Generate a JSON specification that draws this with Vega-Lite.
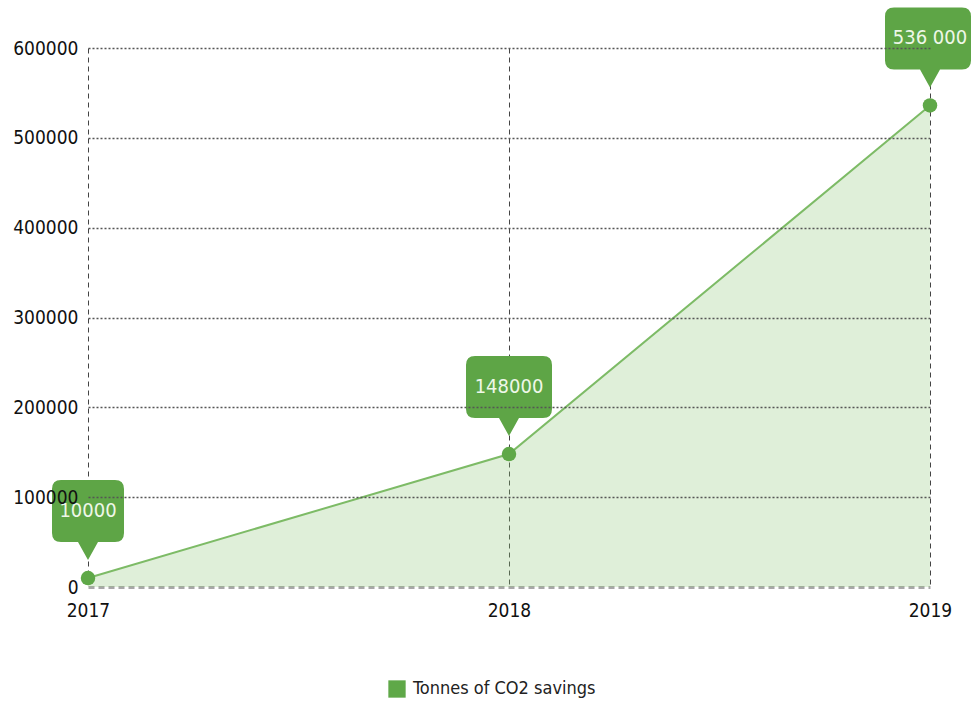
{
  "$schema": "https://vega.github.io/schema/vega-lite/v6.json",
  "width": 842,
  "height": 539,
  "autosize": "none",
  "padding": {"left": 88, "top": 48, "right": 42, "bottom": 127},
  "background": "white",
  "data": {
    "values": [
      {"year": 2017, "tonnes": 10000, "label": "10000"},
      {"year": 2018, "tonnes": 148000, "label": "148000"},
      {"year": 2019, "tonnes": 536000, "label": "536 000"}
    ]
  },
  "encoding": {
    "x": {
      "field": "year",
      "type": "ordinal",
      "scale": {"type": "point", "padding": 0},
      "axis": {
        "title": null,
        "labelAngle": 0,
        "ticks": false,
        "labelFont": "DejaVu Sans Condensed, Liberation Sans, sans-serif",
        "labelFontSize": 19,
        "labelColor": "#111111",
        "labelPadding": 14,
        "labelAlign": "center",
        "labelOverlap": false,
        "domain": true,
        "domainColor": "#a8a8a8",
        "domainWidth": 3,
        "domainDash": [6, 4],
        "grid": true,
        "gridColor": "#444444",
        "gridWidth": 1,
        "gridDash": [5, 4]
      }
    },
    "y": {
      "field": "tonnes",
      "type": "quantitative",
      "scale": {"domain": [0, 600000], "nice": false},
      "axis": {
        "title": null,
        "zindex": 1,
        "values": [0, 100000, 200000, 300000, 400000, 500000, 600000],
        "format": "d",
        "ticks": false,
        "domain": false,
        "labelFont": "DejaVu Sans Condensed, Liberation Sans, sans-serif",
        "labelFontSize": 19,
        "labelColor": "#111111",
        "labelPadding": 10,
        "labelOverlap": false,
        "grid": true,
        "gridColor": {"condition": {"test": "datum.value === 0", "value": "transparent"}, "value": "#555555"},
        "gridWidth": 1.5,
        "gridDash": [2, 2]
      }
    }
  },
  "layer": [
    {
      "mark": {"type": "area", "color": "#8bc775", "opacity": 0.28}
    },
    {
      "mark": {"type": "line", "color": "#7dbb66", "strokeWidth": 2}
    },
    {
      "mark": {"type": "point", "filled": true, "opacity": 1, "size": 210},
      "encoding": {
        "color": {
          "datum": "Tonnes of CO2 savings",
          "scale": {"range": ["#5fa848"]},
          "legend": {
            "title": null,
            "orient": "none",
            "legendX": 300,
            "legendY": 632,
            "symbolType": "square",
            "symbolSize": 300,
            "symbolStrokeWidth": 0,
            "symbolFillColor": "#6ab351",
            "labelFont": "DejaVu Sans Condensed, Liberation Sans, sans-serif",
            "labelFontSize": 18,
            "labelLimit": 400,
            "labelColor": "#222222",
            "labelOffset": 7
          }
        }
      }
    },
    {
      "mark": {"type": "point", "filled": true, "opacity": 1, "size": 4, "color": "#5ea546", "strokeWidth": 0},
      "encoding": {
        "shape": {
          "field": "year",
          "type": "nominal",
          "legend": null,
          "scale": {
            "domain": [2017, 2018, 2019],
            "range": [
              "M -27 -98 L 27 -98 Q 36 -98 36 -89 L 36 -45 Q 36 -36 27 -36 L 10 -36 L 0 -18 L -10 -36 L -27 -36 Q -36 -36 -36 -45 L -36 -89 Q -36 -98 -27 -98 Z",
              "M -34 -98 L 34 -98 Q 43 -98 43 -89 L 43 -45 Q 43 -36 34 -36 L 10 -36 L 0 -18 L -10 -36 L -34 -36 Q -43 -36 -43 -45 L -43 -89 Q -43 -98 -34 -98 Z",
              "M -36 -98 L 32 -98 Q 41 -98 41 -89 L 41 -45 Q 41 -36 32 -36 L 10 -36 L 0 -18 L -10 -36 L -36 -36 Q -45 -36 -45 -45 L -45 -89 Q -45 -98 -36 -98 Z"
            ]
          }
        }
      }
    },
    {
      "mark": {
        "type": "text",
        "font": "DejaVu Sans Condensed, Liberation Sans, sans-serif",
        "fontSize": 20,
        "color": "#eef7e8",
        "baseline": "middle",
        "align": "center",
        "dy": -67
      },
      "encoding": {"text": {"field": "label"}}
    }
  ],
  "config": {"view": {"stroke": null}}
}
